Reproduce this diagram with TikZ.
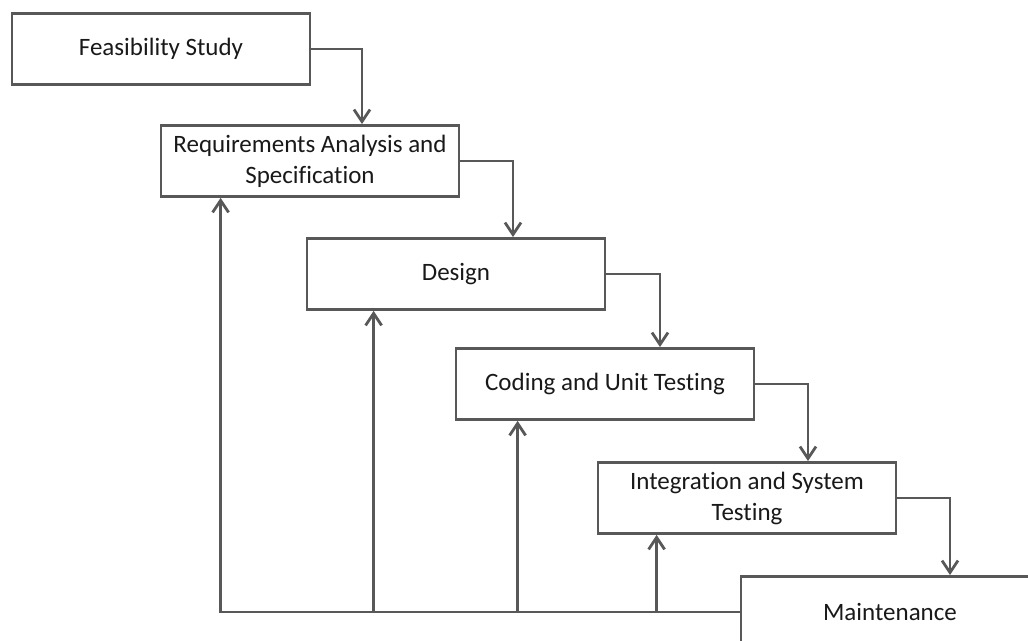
\documentclass[tikz,border=0pt]{standalone}
\usepackage{fontspec}
\setmainfont[Ligatures={NoCommon}]{Carlito}
\usetikzlibrary{arrows.meta,calc}
\definecolor{boxgray}{RGB}{88,88,88}
\tikzset{>={Straight Barb[length=6pt,width=8pt]}}

\begin{document}
\begin{tikzpicture}[x=0.5pt,y=-0.5pt]
\tikzset{
  phase/.style={
    draw=boxgray,
    line width=1.4pt,
    minimum width=149pt,
    minimum height=35.5pt,
    align=center,
    text=black!90,
    font=\fontsize{12.5}{15.5}\selectfont
  }
};

\tikzstyle{link}=[draw=boxgray,line width=1.4pt]

 \clip (0,0) rectangle (1028,641);

 \node[phase] (feas)   at (161,49)  {Feasibility Study};
 \node[phase] (req)    at (310,161) {Requirements Analysis and\\Specification};
 \node[phase] (design) at (456,274) {Design};
 \node[phase] (coding) at (605,384) {Coding and Unit Testing};
 \node[phase] (integ)  at (747,498) {Integration and System\\Testing};
 \node[phase] (maint)  at (890,612) {Maintenance};

  \draw[link,->] (feas.east)   -| ($(req.north)+(52,0)$);
  \draw[link,->] (req.east)    -| ($(design.north)+(57,0)$);
  \draw[link,->] (design.east) -| ($(coding.north)+(55,0)$);
  \draw[link,->] (coding.east) -| ($(integ.north)+(61,0)$);
  \draw[link,->] (integ.east)  -| ($(maint.north)+(60,0)$);

  \coordinate (fbreq)    at ($(req.south west)+(61,0)$);
  \coordinate (fbdesign) at ($(design.south west)+(68,0)$);
  \coordinate (fbcoding) at ($(coding.south west)+(63,0)$);
  \coordinate (fbinteg)  at ($(integ.south west)+(60,0)$);

  \draw[link,->] (maint.west) -| (fbreq);
  \draw[link,->] (fbdesign |- maint.west) -- (fbdesign);
  \draw[link,->] (fbcoding |- maint.west) -- (fbcoding);
  \draw[link,->] (fbinteg |- maint.west) -- (fbinteg);
\end{tikzpicture}
\end{document}
